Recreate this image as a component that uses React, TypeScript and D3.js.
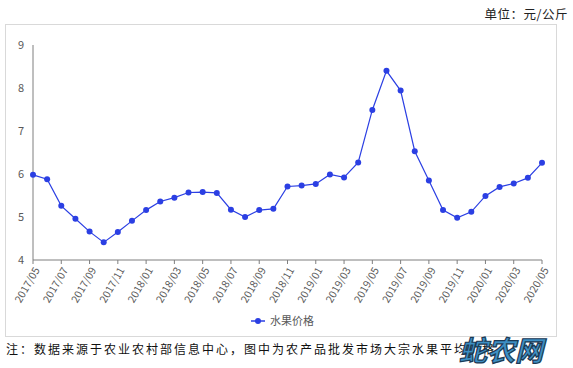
import React from "react";
import * as d3 from "d3";

const months: string[] = [
  "2017/05","2017/06","2017/07","2017/08","2017/09","2017/10","2017/11","2017/12",
  "2018/01","2018/02","2018/03","2018/04","2018/05","2018/06","2018/07","2018/08","2018/09","2018/10","2018/11","2018/12",
  "2019/01","2019/02","2019/03","2019/04","2019/05","2019/06","2019/07","2019/08","2019/09","2019/10","2019/11","2019/12",
  "2020/01","2020/02","2020/03","2020/04","2020/05",
];
const fruitPrice: number[] = [
  5.98, 5.88, 5.26, 4.96, 4.66, 4.41, 4.65, 4.91,
  5.16, 5.36, 5.45, 5.57, 5.58, 5.56, 5.17, 5.0, 5.16, 5.19, 5.71, 5.73,
  5.77, 5.99, 5.92, 6.27, 7.49, 8.4, 7.94, 6.53, 5.85, 5.16, 4.98, 5.12,
  5.49, 5.7, 5.78, 5.91, 6.26,
];
const yTicks: number[] = [4, 5, 6, 7, 8, 9];
const seriesName = "水果价格";
const unitLabel = "单位：元/公斤";
const footnote = "注：数据来源于农业农村部信息中心，图中为农产品批发市场大宗水果平均价格";
const watermark = "蛇农网";

export default function App() {
  const W = 573, H = 368;
  const x = d3.scalePoint<string>().domain(months).range([33, 542]);
  const y = d3.scaleLinear().domain([4, 9]).range([260, 45]);
  const line = d3.line<number>().x((_, i) => x(months[i]) as number).y((d) => y(d));
  const blue = "#2b3fe3";
  const labelMonths = months.filter((_, i) => i % 2 === 0);
  const sans = "'Noto Sans CJK SC', 'DejaVu Sans', sans-serif";
  return (
    <svg width={W} height={H} style={{ position: "absolute", left: 0, top: 0, background: "#fff" }}>
      <text x={568} y={19} textAnchor="end" fontSize={12.5} fill="#222" fontFamily={sans} letterSpacing={0.5}>{unitLabel}</text>
      <rect x={5.5} y={24.5} width={551} height={312} fill="none" stroke="#d9d9d9" />
      <line x1={33} x2={33} y1={45} y2={260} stroke="#7f7f7f" strokeWidth={1} />
      <line x1={33} x2={542} y1={260} y2={260} stroke="#7f7f7f" strokeWidth={1} />
      {yTicks.map((t) => (
        <text key={t} x={24} y={y(t) + 4} textAnchor="end" fontSize={11} fill="#595959" fontFamily={sans}>{t}</text>
      ))}
      {labelMonths.map((m) => {
        const px = x(m) as number;
        return (
          <g key={m}>
            <line x1={px} x2={px} y1={260} y2={264} stroke="#7f7f7f" />
            <text transform={`translate(${px + 4},${268}) rotate(-60)`} textAnchor="end" fontSize={10.5} fill="#595959" fontFamily={sans} dy="0.35em">{m}</text>
          </g>
        );
      })}
      <path d={line(fruitPrice) || ""} fill="none" stroke={blue} strokeWidth={1.2} />
      {fruitPrice.map((v, i) => (
        <circle key={i} cx={x(months[i]) as number} cy={y(v)} r={3} fill={blue} />
      ))}
      <line x1={251} x2={265} y1={321} y2={321} stroke={blue} strokeWidth={1.5} />
      <circle cx={258} cy={321} r={3} fill={blue} />
      <text x={270} y={325} fontSize={11} fill="#595959" fontFamily={sans}>{seriesName}</text>
      <text x={6} y={354} fontSize={12} fill="#111" fontFamily={sans} letterSpacing={2}>{footnote}</text>
      <text x={459} y={361} fontSize={28} fontWeight="bold" fontStyle="italic" fill="#3d8fc4" stroke="#1b3a55" strokeWidth={1.2} fontFamily={sans}>{watermark}</text>
    </svg>
  );
}
